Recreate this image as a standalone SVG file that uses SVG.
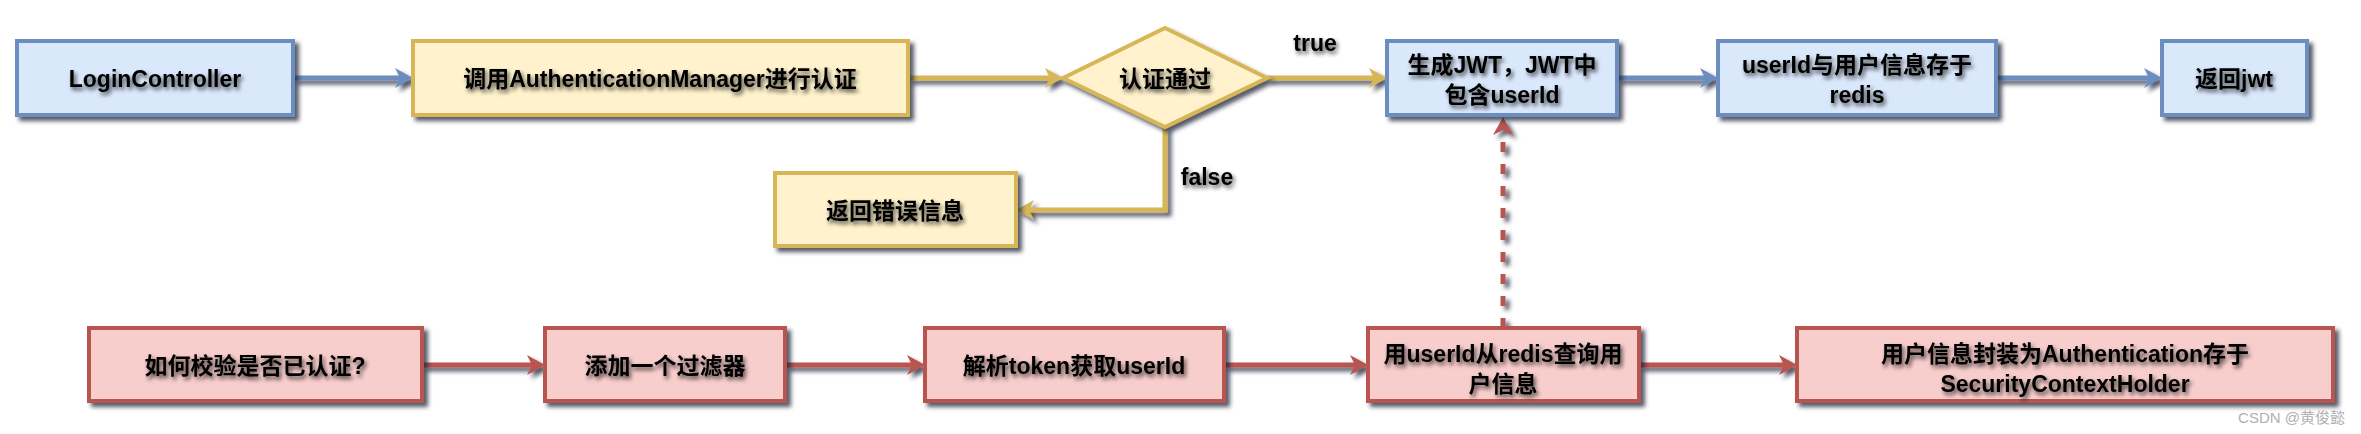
<svg xmlns="http://www.w3.org/2000/svg" width="2361" height="434" viewBox="0 0 2361 434">
<style>
.lbl{font-family:"Liberation Sans","Noto Sans CJK SC",sans-serif;font-weight:bold;font-size:23px;fill:#000;text-anchor:middle;dominant-baseline:central;filter:url(#tsh)}
.blue{fill:#dae8fc;stroke:#6c8ebf;stroke-width:4}
.yel{fill:#fff2cc;stroke:#d6b656;stroke-width:4}
.red{fill:#f8cecc;stroke:#b85450;stroke-width:4}
.cb{fill:none;stroke:#6c8ebf;stroke-width:5}
.cy{fill:none;stroke:#d6b656;stroke-width:5}
.cr{fill:none;stroke:#b85450;stroke-width:5}
.wm{font-family:"Liberation Sans","Noto Sans CJK SC",sans-serif;font-size:15px;fill:#b0b0b0;text-anchor:end}
</style>
<defs>
<filter id="sh" x="-10%" y="-20%" width="130%" height="160%">
<feGaussianBlur in="SourceAlpha" stdDeviation="2"/>
<feOffset dx="4" dy="4" result="b"/>
<feFlood flood-color="#1e2238" flood-opacity="0.75"/>
<feComposite in2="b" operator="in"/>
<feMerge><feMergeNode/><feMergeNode in="SourceGraphic"/></feMerge>
</filter>
<filter id="tsh" x="-10%" y="-30%" width="130%" height="180%">
<feGaussianBlur in="SourceAlpha" stdDeviation="2"/>
<feOffset dx="2" dy="3" result="b"/>
<feFlood flood-color="#000" flood-opacity="0.7"/>
<feComposite in2="b" operator="in"/>
<feMerge><feMergeNode/><feMergeNode in="SourceGraphic"/></feMerge>
</filter>
<marker id="ab" markerUnits="userSpaceOnUse" markerWidth="20" markerHeight="22" viewBox="0 0 20 22" refX="8" refY="11" orient="auto"><path d="M0,1 L18,11 L0,21 L5,11 Z" fill="#6c8ebf"/></marker>
<marker id="ay" markerUnits="userSpaceOnUse" markerWidth="20" markerHeight="22" viewBox="0 0 20 22" refX="8" refY="11" orient="auto"><path d="M0,1 L18,11 L0,21 L5,11 Z" fill="#d6b656"/></marker>
<marker id="ar" markerUnits="userSpaceOnUse" markerWidth="20" markerHeight="22" viewBox="0 0 20 22" refX="8" refY="11" orient="auto"><path d="M0,1 L18,11 L0,21 L5,11 Z" fill="#b85450"/></marker>
</defs>
<rect width="2361" height="434" fill="#fff"/>
<g id="connectors" filter="url(#sh)">
<path class="cb" d="M293,78 H403" marker-end="url(#ab)"/>
<path class="cy" d="M908,78 H1053" marker-end="url(#ay)"/>
<path class="cy" d="M1267,78 H1377" marker-end="url(#ay)"/>
<path class="cy" d="M1165,127 V210 H1026" marker-end="url(#ay)"/>
<path class="cb" d="M1617,78 H1708" marker-end="url(#ab)"/>
<path class="cb" d="M1996,78 H2152" marker-end="url(#ab)"/>
<path class="cr" d="M422,365 H535" marker-end="url(#ar)"/>
<path class="cr" d="M785,365 H915" marker-end="url(#ar)"/>
<path class="cr" d="M1224,365 H1358" marker-end="url(#ar)"/>
<path class="cr" d="M1639,365 H1787" marker-end="url(#ar)"/>
<path class="cr" d="M1503,328 V127" stroke-dasharray="10 12" marker-end="url(#ar)"/>
</g>
<g id="edge-labels">
<text class="lbl" x="1315" y="43">true</text>
<text class="lbl" x="1207" y="177">false</text>
</g>
<g id="n1"><rect class="blue" x="17" y="41" width="276" height="74" filter="url(#sh)"/><text class="lbl" x="155" y="79">LoginController</text></g>
<g id="n2"><rect class="yel" x="413" y="41" width="495" height="74" filter="url(#sh)"/><text class="lbl" x="660" y="79">调用AuthenticationManager进行认证</text></g>
<g id="n3"><polygon class="yel" points="1063,78 1165,28 1267,78 1165,127" filter="url(#sh)"/><text class="lbl" x="1165" y="79">认证通过</text></g>
<g id="n4"><rect class="blue" x="1387" y="41" width="230" height="74" filter="url(#sh)"/><text class="lbl" x="1502" y="65">生成JWT，JWT中</text><text class="lbl" x="1502" y="95">包含userId</text></g>
<g id="n5"><rect class="blue" x="1718" y="41" width="278" height="74" filter="url(#sh)"/><text class="lbl" x="1857" y="65">userId与用户信息存于</text><text class="lbl" x="1857" y="95">redis</text></g>
<g id="n6"><rect class="blue" x="2162" y="41" width="145" height="74" filter="url(#sh)"/><text class="lbl" x="2234" y="79">返回jwt</text></g>
<g id="n7"><rect class="yel" x="775" y="173" width="241" height="73" filter="url(#sh)"/><text class="lbl" x="895" y="211">返回错误信息</text></g>
<g id="n8"><rect class="red" x="89" y="328" width="333" height="73" filter="url(#sh)"/><text class="lbl" x="255" y="366">如何校验是否已认证?</text></g>
<g id="n9"><rect class="red" x="545" y="328" width="240" height="73" filter="url(#sh)"/><text class="lbl" x="665" y="366">添加一个过滤器</text></g>
<g id="n10"><rect class="red" x="925" y="328" width="299" height="73" filter="url(#sh)"/><text class="lbl" x="1074" y="366">解析token获取userId</text></g>
<g id="n11"><rect class="red" x="1368" y="328" width="271" height="73" filter="url(#sh)"/><text class="lbl" x="1503" y="354">用userId从redis查询用</text><text class="lbl" x="1503" y="384">户信息</text></g>
<g id="n12"><rect class="red" x="1797" y="328" width="536" height="73" filter="url(#sh)"/><text class="lbl" x="2065" y="354">用户信息封装为Authentication存于</text><text class="lbl" x="2065" y="384">SecurityContextHolder</text></g>
<text class="wm" x="2345" y="423">CSDN @黄俊懿</text>
</svg>
